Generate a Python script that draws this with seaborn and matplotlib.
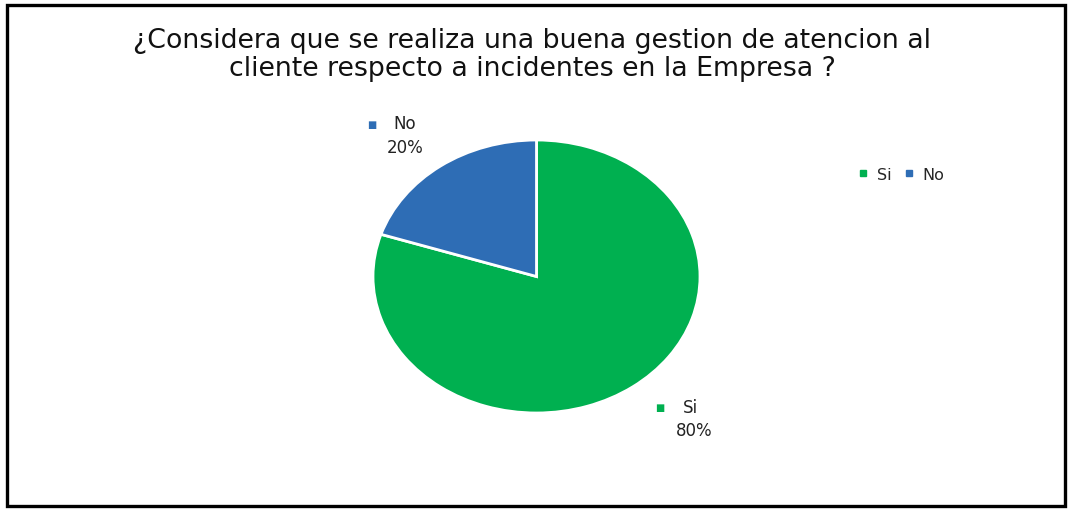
import matplotlib
matplotlib.use("Agg")
import matplotlib.pyplot as plt
from matplotlib.patches import Rectangle
from matplotlib.lines import Line2D
import seaborn as sns

categories = ["Si", "No"]
values = [80, 20]
colors = ["#00B050", "#2E6DB5"]
title = "¿Considera que se realiza una buena gestion de atencion al\ncliente respecto a incidentes en la Empresa ?"

sns.set_theme(style="white")
plt.rcParams["font.family"] = ["DejaVu Sans"]

W, H = 1069, 510
fig = plt.figure(figsize=(W / 100, H / 100), dpi=100)
fig.patch.set_facecolor("white")

# pie axes: bounding box of the (elliptical) pie in pixels
x0, x1, y0, y1 = 373, 700, 141, 414
ax = fig.add_axes([x0 / W, 1 - y1 / H, (x1 - x0) / W, (y1 - y0) / H])
ax.pie(values, colors=colors, startangle=90, counterclock=False,
       wedgeprops=dict(edgecolor="white", linewidth=2))
ax.set_aspect("auto")
ax.set_xlim(-1, 1)
ax.set_ylim(-1, 1)
ax.axis("off")

def px(x, y):
    return x / W, 1 - y / H

# data labels
label_pos = {"Si": ((660, 408), (690, 408), (694, 431)),
             "No": ((372, 125), (405, 124), (405, 148))}
for cat, val, col in zip(categories, values, colors):
    (mx, my), (tx, ty), (vx, vy) = label_pos[cat]
    fig.text(*px(mx, my), "■", color=col, fontsize=7, ha="center", va="center")
    fig.text(*px(tx, ty), cat, color="#222222", fontsize=12, ha="center", va="center")
    fig.text(*px(vx, vy), f"{val}%", color="#222222", fontsize=12, ha="center", va="center")

# title
fig.text(*px(532, 55), title, ha="center", va="center", fontsize=19.3,
         family=["DejaVu Sans"], color="#111111", linespacing=1.15)

# legend
handles = [Line2D([0], [0], marker="s", linestyle="none", markersize=4.5,
                  markerfacecolor=c, markeredgecolor=c) for c in colors]
fig.legend(handles, categories, loc="center left", bbox_to_anchor=px(857, 175),
           ncol=2, frameon=False, fontsize=11.5, handletextpad=0.45,
           columnspacing=0.7, handlelength=0.8, borderpad=0, borderaxespad=0)

# outer frame
fig.patches.append(Rectangle((6.5 / W, 3.5 / H), (1065 - 6.5) / W, (506.5 - 5.5) / H,
                             transform=fig.transFigure, fill=False,
                             edgecolor="black", linewidth=2.4))

fig.savefig("out.png", dpi=100, facecolor="white")
